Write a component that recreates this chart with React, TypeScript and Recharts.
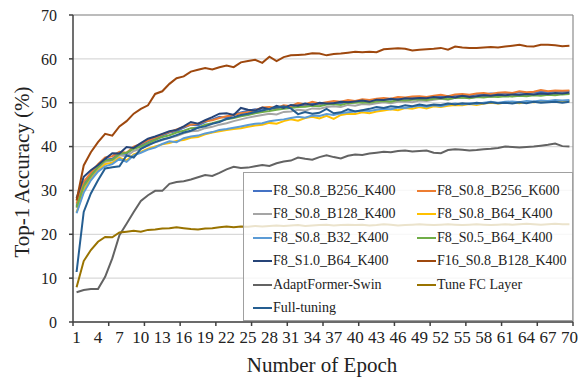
import { LineChart, Line, XAxis, YAxis, CartesianGrid, ReferenceLine } from 'recharts'

const epochs = Array.from({ length: 70 }, (_, i) => i + 1)

const epochLabels = [1, 4, 7, 10, 13, 16, 19, 22, 25, 28, 31, 34, 37, 40, 43, 46, 49, 52, 55, 58, 61, 64, 67, 70]
const epochMarks = [0.5, 5.5, 10.5, 15.5, 20.5, 25.5, 30.5, 35.5, 40.5, 45.5, 50.5, 55.5, 60.5, 65.5, 70.5]
const accuracyTicks = [0, 10, 20, 30, 40, 50, 60, 70]

const b256k400 = [
  26.5, 31.5, 33.5, 35.5, 37, 37.2, 38.5, 38.3, 39.8, 40.3,
  41.2, 41.8, 42.5, 43.2, 43.5, 44.3, 45, 44.8, 45.6, 46.2,
  46.8, 46.5, 47.3, 47.8, 48.2, 48.5, 48.3, 48.8, 48.6, 49.2,
  49, 49.5, 49.3, 49.8, 49.6, 49.9, 50, 49.8, 50.3, 50.2,
  50.5, 50.3, 50.6, 50.8, 50.7, 51, 50.9, 51.2, 51.1, 51.3,
  51.2, 51.5, 51.3, 51.6, 51.8, 51.6, 51.9, 51.8, 52.1, 52,
  52.2, 52.1, 52.4, 52.2, 52.3, 52.5, 52.4, 52.6, 52.5, 52.6,
]
const b256k600 = [
  27, 32, 34, 36, 37.5, 37.8, 38.8, 38.6, 40, 40.6,
  41.4, 42, 42.8, 43.3, 43.9, 44.5, 45, 45.2, 45.8, 46,
  46.5, 46.9, 47.2, 47.6, 47.8, 48.3, 48.9, 49, 48.8, 49.4,
  49.2, 49.9, 49.6, 50.2, 49.8, 50.1, 50.4, 50.2, 50.6, 50.4,
  50.8, 50.6, 50.9, 51.1, 50.9, 51.3, 51.2, 51.4, 51.5, 51.3,
  51.6, 51.8, 51.5, 51.9, 52, 51.8, 52.1, 52.2, 52, 52.3,
  52.4, 52.2, 52.6, 52.4, 52.5, 52.9, 52.6, 52.8, 52.7, 52.8,
]
const b128k400 = [
  26, 30.5, 33, 35, 36.5, 36.8, 38, 37.8, 39, 39.5,
  40.4, 41, 41.5, 42, 42.4, 43, 43.5, 43.6, 44.2, 44.5,
  45, 45.3, 45.8, 46.2, 46.6, 46.9, 47.2, 47.5, 47.3, 47.9,
  48, 48.4, 48.2, 48.7, 48.6, 49, 49.2, 49, 49.5, 49.3,
  49.7, 49.6, 49.9, 50.1, 49.9, 50.2, 50.3, 50.1, 50.5, 50.4,
  50.7, 50.9, 50.7, 51.1, 51.2, 51, 51.3, 51.4, 51.3, 51.6,
  51.6, 51.5, 51.8, 51.7, 51.9, 51.8, 52, 51.9, 52.1, 52,
]
const b64k400 = [
  25, 30, 32.5, 34.5, 36, 36.3, 37.5, 36.8, 38.2, 38.8,
  39.5, 40, 40.5, 40.8, 41.3, 41.5, 42, 42.2, 42.8, 43.2,
  43.5, 43.8, 44, 44.2, 44.5, 44.8, 45, 45.4, 45.2, 45.8,
  46.2, 45.9, 46.5, 46.8, 46.4, 47, 46.3, 47.2, 47.5, 47.4,
  47.8, 47.6, 48, 48.2, 48.5, 48.3, 48.8, 48.6, 49, 48.7,
  49.2, 49, 49.3, 49.5, 49.4, 49.7, 49.5, 49.8, 50, 49.8,
  50, 50.1, 49.9, 50.2, 50.1, 50.3, 50.2, 50.4, 50.3, 50.4,
]
const b32k400 = [
  24.8, 29.5, 32.3, 34.3, 35.5, 36, 37.2, 36.5, 38, 38.6,
  39.3, 39.8, 40.6, 41.2, 41, 41.9, 42.3, 42.5, 43, 43.3,
  43.8, 44, 44.3, 44.6, 44.9, 45.2, 45.3, 45.8, 46, 46.2,
  46.5, 46.8, 46.6, 47.1, 47, 47.4, 47.2, 47.6, 47.8, 48,
  48.2, 48.1, 48.4, 48.6, 48.5, 48.9, 48.8, 49.1, 49.3, 49.1,
  49.4, 49.2, 49.6, 49.8, 49.6, 49.9, 49.7, 50, 50.2, 50,
  50.2, 50.3, 50.1, 50.4, 50.3, 50.5, 50.4, 50.6, 50.5, 50.6,
]
const s05b64 = [
  26.2, 31, 33.3, 35.3, 36.8, 37, 38.3, 38.6, 39.5, 40,
  40.8, 41.5, 42.2, 42.6, 43.2, 43.6, 44.2, 44.3, 45, 45.3,
  45.8, 46.2, 46.5, 46.9, 47.2, 47.6, 47.9, 48.1, 48.4, 48.6,
  48.8, 49, 49.1, 49.3, 49.2, 49.6, 49.7, 49.5, 49.9, 50,
  50.1, 50, 50.3, 50.4, 50.2, 50.6, 50.5, 50.7, 50.8, 50.6,
  50.9, 51, 50.8, 51.1, 51.2, 51, 51.3, 51.2, 51.4, 51.3,
  51.5, 51.4, 51.6, 51.5, 51.7, 51.6, 51.8, 51.7, 51.9, 52,
]
const s10b64 = [
  28.2, 33.1, 34.6, 35.8, 37.2, 38.5, 38.4, 39.9, 39.7, 40.8,
  41.8, 42.3, 42.9, 43.5, 43.8, 44.6, 45.6, 45.2, 46, 46.7,
  47.5, 47.6, 47.2, 48.8, 48.4, 48.2, 48.9, 48.5, 49.3, 48.8,
  49.5, 49.3, 49.8, 49.5, 50, 49.8, 49.9, 50.2, 50.1, 50.3,
  50.5, 50.2, 50.7, 50.6, 50.9, 50.7, 51, 50.9, 51.1, 51,
  51.3, 51.1, 51.4, 51.2, 51.6, 51.3, 51.5, 51.7, 51.6, 51.8,
  51.7, 51.9, 51.8, 52, 51.9, 52.1, 52, 52.2, 52.1, 52.3,
]
const f16b128 = [
  27.7, 35.7, 38.7, 41, 42.9, 42.5, 44.6, 45.8, 47.5, 48.6,
  49.4, 52, 52.6, 54.3, 55.6, 56, 57.1, 57.5, 57.9, 57.6,
  58.1, 58.5, 58.1, 59.2, 59.5, 59.8, 59.1, 60.5, 59.5, 60.4,
  60.8, 60.9, 61, 61.3, 61.2, 60.8, 61.1, 61.2, 61.4, 61.6,
  61.5, 61.6, 61.5, 62.2, 62.3, 62.4, 62.3, 61.9, 62.1, 62.2,
  62.3, 62.5, 62.1, 62.8, 62.6, 62.5, 62.5, 62.6, 62.7, 62.6,
  62.8, 63, 63.2, 62.9, 62.8, 63.2, 63.2, 63.1, 62.9, 63,
]
const adaptFormer = [
  6.8, 7.3, 7.5, 7.5, 10.3, 14.5, 19.8, 22.4, 25.1, 27.6,
  28.9, 29.9, 29.9, 31.5, 31.9, 32.1, 32.5, 33, 33.5, 33.3,
  34, 34.8, 35.4, 35.1, 35.2, 35.5, 35.8, 35.6, 36.2, 36.6,
  36.8, 37.5, 37.2, 37, 37.6, 38, 37.6, 37.3, 37.9, 38.2,
  38.1, 38.4, 38.6, 38.8, 38.7, 39, 39.1, 38.9, 39, 39.1,
  38.6, 38.5, 39.2, 39.4, 39.3, 39.1, 39.2, 39.4, 39.5, 39.7,
  40, 39.9, 39.8, 39.9, 40, 40.2, 40.4, 40.7, 40.1, 40,
]
const tuneFc = [
  7.9, 13.9, 16.4, 18.3, 19.4, 19.3, 20.4, 20.6, 20.8, 20.6,
  21, 21.1, 21.3, 21.4, 21.6, 21.4, 21.2, 21.1, 21.3, 21.4,
  21.6, 21.8, 21.6, 21.8, 21.7, 21.9, 21.8, 21.9, 22, 21.9,
  22, 22.1, 21.9, 22, 22.1, 22.2, 22, 22.1, 22.2, 22.1,
  22.2, 22, 22.1, 22.3, 22.2, 22, 22.1, 22.2, 22.3, 22.2,
  22.1, 22.2, 22.3, 22.2, 22.1, 22.2, 22.3, 22.2, 22.1, 22.2,
  22.3, 22.2, 22.3, 22.4, 22.3, 22.2, 22.3, 22.4, 22.3, 22.3,
]
const fullTuning = [
  11.4, 25.1, 29.3, 32.3, 35, 35.3, 35.5, 38, 37.5, 39.5,
  40.3, 41, 41.6, 42, 42.6, 43.2, 43.6, 44.3, 44.6, 45.2,
  45.6, 46.3, 46.7, 47.2, 47.5, 47.9, 48.2, 48.6, 48.9, 49.2,
  48.7, 47.4, 47.9, 47.5, 47.7, 48.6, 47.6, 47.8, 48.5, 48,
  48.3, 48.6, 49, 48.8, 49.2, 49, 49.4, 49.2, 49.6, 49.3,
  49.6, 49.5, 49.8, 49.6, 49.9, 49.7, 50, 49.8, 50.1, 49.9,
  50, 49.8, 50.1, 49.9, 50.2, 50, 50.1, 50.2, 50, 50.2,
]

const SERIES = [
  { key: 'b256k400', name: 'F8_S0.8_B256_K400', color: '#4472C4', values: b256k400 },
  { key: 'b256k600', name: 'F8_S0.8_B256_K600', color: '#ED7D31', values: b256k600 },
  { key: 'b128k400', name: 'F8_S0.8_B128_K400', color: '#A5A5A5', values: b128k400 },
  { key: 'b64k400', name: 'F8_S0.8_B64_K400', color: '#FFC000', values: b64k400 },
  { key: 'b32k400', name: 'F8_S0.8_B32_K400', color: '#5B9BD5', values: b32k400 },
  { key: 's05b64', name: 'F8_S0.5_B64_K400', color: '#70AD47', values: s05b64 },
  { key: 's10b64', name: 'F8_S1.0_B64_K400', color: '#264478', values: s10b64 },
  { key: 'f16b128', name: 'F16_S0.8_B128_K400', color: '#9E480E', values: f16b128 },
  { key: 'adaptFormer', name: 'AdaptFormer-Swin', color: '#636363', values: adaptFormer },
  { key: 'tuneFc', name: 'Tune FC Layer', color: '#997300', values: tuneFc },
  { key: 'fullTuning', name: 'Full-tuning', color: '#255E91', values: fullTuning },
]

const data = epochs.map((epoch, i) => {
  const row: Record<string, number> = { epoch }
  SERIES.forEach((s) => {
    row[s.key] = s.values[i]
  })
  return row
})

const FONT = 'Liberation Serif, DejaVu Serif, serif'
const AXIS_COLOR = '#404040'

function EpochTick({ x, y, payload }: any) {
  const v = payload.value as number
  if (v % 1 !== 0) {
    return <line x1={x} y1={y} x2={x} y2={y + 4} stroke={AXIS_COLOR} strokeWidth={1.5} />
  }
  return (
    <text x={x} y={y + 21} textAnchor="middle" style={{ fontFamily: FONT }} fontSize={17} fill="#222">
      {v}
    </text>
  )
}

export default function App() {
  return (
    <div style={{ position: 'absolute', left: 0, top: 0, width: 581, height: 378, background: '#fff', fontFamily: FONT }}>
      <LineChart width={581} height={378} data={data} margin={{ top: 15, right: 8, bottom: 26, left: 0 }} style={{ fontFamily: FONT }}>
        <CartesianGrid vertical={false} stroke="#d9d9d9" strokeWidth={1.2} />
        <XAxis
          type="number"
          dataKey="epoch"
          domain={[0.5, 70.5]}
          ticks={[...epochMarks, ...epochLabels].sort((a, b) => a - b)}
          interval={0}
          tickLine={false}
          tickSize={0}
          tickMargin={0}
          tick={<EpochTick />}
          axisLine={{ stroke: AXIS_COLOR, strokeWidth: 1.5 }}
          height={30}
        />
        <YAxis
          domain={[0, 70]}
          ticks={accuracyTicks}
          interval={0}
          width={73}
          tickSize={4}
          tickMargin={12}
          tick={{ fontFamily: FONT, fontSize: 16, fill: '#222', style: { fontFamily: FONT } }}
          tickLine={{ stroke: AXIS_COLOR, strokeWidth: 1.5 }}
          axisLine={{ stroke: AXIS_COLOR, strokeWidth: 1.5 }}
        />
        <ReferenceLine y={70} stroke="#8c8c8c" strokeWidth={1.2} />
        <ReferenceLine x={70.5} stroke="#8c8c8c" strokeWidth={1.2} />
        {SERIES.map((s) => (
          <Line
            key={s.key}
            type="linear"
            dataKey={s.key}
            name={s.name}
            stroke={s.color}
            strokeWidth={2}
            dot={false}
            isAnimationActive={false}
          />
        ))}
      </LineChart>

      <div
        style={{
          position: 'absolute',
          left: 243,
          top: 172,
          width: 330,
          height: 149,
          border: '1px solid #a0a0a0',
          background: 'rgba(255,255,255,0.8)',
          boxSizing: 'border-box',
          fontFamily: FONT,
          fontSize: 14,
          color: '#222',
        }}
      >
        {SERIES.map((s, i) => (
          <div
            key={s.key}
            style={{
              position: 'absolute',
              left: i % 2 === 0 ? 9 : 173,
              top: 8 + Math.floor(i / 2) * 23.4,
              height: 20,
              display: 'flex',
              alignItems: 'center',
              whiteSpace: 'nowrap',
            }}
          >
            <span style={{ display: 'inline-block', width: 19, height: 2, background: s.color, marginRight: 1 }} />
            <span>{s.name}</span>
          </div>
        ))}
      </div>

      <div
        style={{
          position: 'absolute',
          left: 22,
          top: 172,
          transform: 'translate(-50%, -50%) rotate(-90deg)',
          fontFamily: FONT,
          fontSize: 21,
          color: '#222',
          whiteSpace: 'nowrap',
        }}
      >
        Top-1 Accuracy (%)
      </div>
      <div
        style={{
          position: 'absolute',
          left: 322,
          top: 365,
          transform: 'translate(-50%, -50%)',
          fontFamily: FONT,
          fontSize: 21,
          color: '#222',
          whiteSpace: 'nowrap',
        }}
      >
        Number of Epoch
      </div>
    </div>
  )
}
